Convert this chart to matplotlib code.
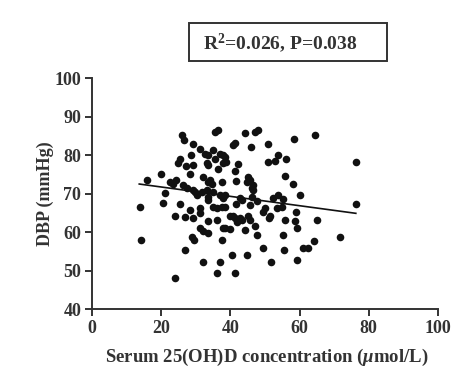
import matplotlib
matplotlib.use("Agg")
import matplotlib.pyplot as plt
from matplotlib.patches import Rectangle
import numpy as np

# serum 25(OH)D (umol/L) and DBP (mmHg)
vitd = [13.8, 14.1, 15.8, 20.0, 20.6, 21.1, 24.0, 22.5, 23.5, 24.2, 25.4, 23.9,
        25.9, 26.6, 29.2, 25.4, 24.9, 28.6, 27.1, 29.2, 28.3, 26.4, 27.3, 29.1,
        29.7, 30.2, 28.3, 26.8, 29.2, 28.8, 29.4, 26.8, 31.2, 32.6, 33.6, 33.1,
        33.6, 32.1, 31.7, 33.1, 31.2, 31.2, 31.2, 32.1, 33.6, 32.0, 35.5, 36.4,
        35.0, 37.0, 37.9, 38.4, 35.5, 37.9, 36.5, 34.1, 34.6, 33.6, 37.5, 35.0,
        33.6, 33.6, 37.0, 37.9, 35.0, 36.0, 37.5, 33.6, 36.0, 37.9, 37.5, 36.0,
        40.4, 37.0, 44.2, 47.1, 48.1, 41.3, 40.8, 46.0, 38.7, 42.3, 41.3, 45.2,
        45.7, 44.7, 41.6, 46.6, 46.2, 46.6, 38.4, 42.8, 43.3, 46.2, 47.6, 38.4,
        41.6, 45.7, 39.9, 40.8, 41.3, 41.8, 42.8, 43.3, 45.2, 45.7, 38.4, 39.9,
        44.2, 47.1, 47.8, 44.7, 41.3, 51.0, 53.9, 51.0, 52.9, 56.0, 55.8, 58.2,
        52.4, 53.9, 55.3, 60.1, 50.0, 49.5, 51.5, 51.2, 53.4, 54.8, 59.0, 55.8,
        58.7, 59.4, 55.3, 49.5, 55.5, 60.9, 62.5, 51.7, 59.4, 58.4, 64.5, 65.1,
        64.2, 71.7, 76.4, 76.4]
dbp = [66.6, 58.0, 73.5, 75.2, 67.7, 70.2, 48.2, 73.1, 72.6, 73.5, 67.2, 64.3,
       85.2, 83.9, 83.0, 78.9, 78.0, 80.0, 77.1, 77.4, 75.2, 72.2, 71.4, 70.9,
       70.5, 69.6, 65.7, 64.0, 63.6, 58.8, 58.0, 55.4, 81.5, 80.4, 80.0, 78.0,
       77.4, 74.4, 70.5, 70.9, 66.2, 64.9, 61.0, 60.3, 59.7, 52.3, 85.9, 86.5,
       81.3, 80.4, 80.0, 79.5, 79.1, 78.0, 76.3, 73.5, 72.6, 73.1, 73.1, 70.5,
       69.2, 68.3, 69.6, 69.0, 66.6, 66.2, 66.6, 62.9, 63.1, 61.0, 58.0, 49.3,
       54.1, 52.3, 85.8, 86.0, 86.5, 83.2, 82.6, 82.1, 78.2, 77.6, 75.9, 74.4,
       73.5, 73.1, 73.2, 72.2, 71.4, 70.9, 69.6, 69.0, 68.3, 69.2, 68.1, 66.6,
       67.2, 67.0, 64.3, 64.3, 63.6, 62.7, 63.6, 63.1, 64.3, 63.1, 61.0, 60.8,
       60.7, 61.7, 59.3, 54.1, 49.3, 82.8, 80.0, 78.2, 78.5, 79.1, 74.5, 72.6,
       68.8, 69.6, 68.6, 69.6, 66.2, 65.3, 64.3, 63.6, 66.2, 66.6, 65.3, 63.1,
       62.9, 61.2, 59.3, 56.0, 55.4, 56.0, 55.8, 52.2, 52.8, 84.1, 85.2, 63.1,
       57.8, 58.7, 78.2, 67.2]

# fitted line end points
fit_x = [13.6, 76.3]
fit_y = [72.5, 64.9]

stat_text = r"R$^{\mathbf{2}}$=0.026, P=0.038"
xticks = [0, 20, 40, 60, 80, 100]
yticks = [40, 50, 60, 70, 80, 90, 100]

ink = "#333333"
plt.rcParams["font.family"] = ["Liberation Serif", "DejaVu Serif"]
plt.rcParams["font.weight"] = "bold"
plt.rcParams["mathtext.fontset"] = "custom"
plt.rcParams["mathtext.rm"] = "Liberation Serif:bold"
plt.rcParams["mathtext.bf"] = "Liberation Serif:bold"
plt.rcParams["mathtext.it"] = "Liberation Serif:bold:italic"

fig = plt.figure(figsize=(4.74, 3.91), dpi=100)
ax = fig.add_axes([0.1947, 0.2089, 0.7287, 0.5916])

ax.scatter(vitd, dbp, s=30, color="#111111", linewidths=0, zorder=3)
ax.plot(fit_x, fit_y, color="#111111", lw=1.2, zorder=2)

ax.set_xlim(0, 100)
ax.set_ylim(40, 100)
ax.set_xticks(xticks)
ax.set_yticks(yticks)
for s in ["top", "right"]:
    ax.spines[s].set_visible(False)
for s in ["left", "bottom"]:
    ax.spines[s].set_linewidth(1.4)
    ax.spines[s].set_color(ink)
ax.tick_params(direction="out", length=5, width=1.4, color=ink,
               labelsize=13, labelcolor=ink, pad=3)
for lab in ax.get_xticklabels() + ax.get_yticklabels():
    lab.set_fontweight("bold")

ax.set_ylabel("DBP (mmHg)", fontsize=13, fontweight="bold", color=ink)
ax.yaxis.set_label_coords(-0.11, 0.5)
ax.set_xlabel("Serum 25(OH)D concentration ($\\mu$mol/L)", fontsize=13.5,
              fontweight="bold", color=ink)
ax.xaxis.set_label_coords(0.506, -0.21)
ax.xaxis.label.set_va("center")

# stats box at the top
fig.patches.append(Rectangle((0.399, 0.844), 0.417, 0.097, transform=fig.transFigure,
                             fill=False, edgecolor=ink, lw=1.4))
fig.text(0.592, 0.890, stat_text, ha="center", va="center", fontsize=14,
         fontweight="bold", color=ink)

fig.savefig("out.png", dpi=100)
